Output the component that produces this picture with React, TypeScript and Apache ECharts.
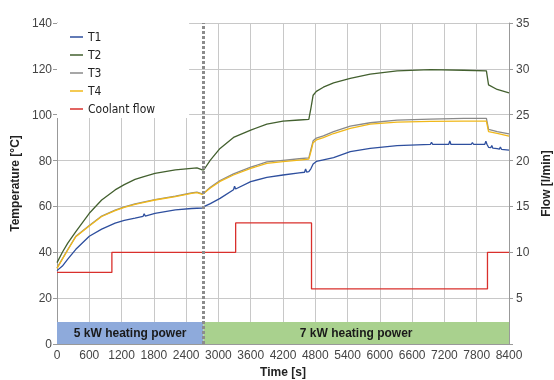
import React, { useEffect, useRef } from "react";
import * as echarts from "echarts";

const timeS = [0, 100, 200, 350, 600, 830, 1080, 1250, 1450, 1600, 1820, 2200, 2500, 2600, 2700, 2730, 2850, 3030, 3280, 3600, 3900, 4200, 4500, 4680, 4720, 4760, 4820, 4950, 5140, 5450, 5820, 6320, 6940, 7560, 7980, 8020, 8180, 8400];
const t2 = [35.5, 40, 44, 49, 57, 62.8, 67.2, 69.5, 71.8, 72.9, 74.4, 75.9, 76.6, 76.8, 75.9, 76.0, 80.2, 85.3, 90.1, 93.3, 95.9, 97.2, 97.7, 98.0, 103, 108.5, 110.2, 112, 113.9, 115.8, 117.7, 119.1, 119.7, 119.4, 119.1, 113, 111, 109.5];
const t3 = [33.2, 37.2, 41.2, 47, 51.7, 55.8, 58.4, 59.8, 61.1, 61.9, 63.0, 64.5, 65.9, 66.2, 65.5, 65.9, 68.4, 71.3, 74.2, 77.1, 79.4, 80.1, 80.8, 81.2, 85, 88.6, 89.8, 90.8, 92.6, 95.0, 96.5, 97.6, 98.1, 98.4, 98.4, 93.6, 92.6, 91.6];
const t4 = [33, 37, 41, 46.8, 51.5, 55.6, 58.2, 59.6, 60.9, 61.7, 62.8, 64.3, 65.7, 66.0, 65.3, 65.7, 68, 70.9, 73.7, 76.6, 78.8, 79.5, 80.2, 80.6, 84, 87.8, 89.0, 90.0, 91.8, 94.0, 95.9, 96.8, 97.1, 97.2, 97.2, 92.6, 91.9, 90.7];

const t1Time = [0, 100, 200, 350, 600, 830, 1080, 1250, 1450, 1600, 1620, 1640, 1820, 2200, 2500, 2600, 2700, 2730, 2850, 3030, 3280, 3300, 3320, 3600, 3900, 4200, 4500, 4600, 4620, 4640, 4680, 4720, 4760, 4820, 4950, 5140, 5450, 5820, 6320, 6940, 6960, 6980, 7280, 7300, 7320, 7560, 7700, 7720, 7740, 7950, 7970, 7990, 8020, 8060, 8080, 8100, 8180, 8220, 8240, 8260, 8400];
const t1 = [32, 34, 37, 41.3, 47, 50.1, 52.7, 53.9, 54.9, 55.7, 56.8, 55.8, 57.0, 58.5, 59.1, 59.2, 59.3, 59.9, 61.2, 63.5, 67.3, 68.8, 67.6, 70.8, 72.7, 73.7, 74.6, 74.9, 76.3, 75.0, 75.2, 76.5, 78.5, 79.6, 80.3, 81.3, 83.9, 85.3, 86.5, 87.1, 88.0, 87.1, 87.1, 88.6, 87.1, 87.1, 87.1, 87.9, 87.1, 87.1, 88.4, 87.1, 85.8, 85.6, 86.6, 85.4, 85.2, 85.0, 85.9, 84.9, 84.6];

const flowTime = [0, 1020, 3320, 4730, 8000, 8400];
const flowValues = [7.8, 10, 13.2, 6.0, 10, 10];

const phaseSwitch = 2720;
const phaseLabels = ["5 kW heating power", "7 kW heating power"];
const phaseTop = 9.6;

const FONT = "'Liberation Sans', Arial, sans-serif";
const NARROW = "'DejaVu Sans Condensed', 'Liberation Sans Narrow', 'Liberation Sans', Arial, sans-serif";

const zip = (xs: number[], ys: number[]) => xs.map((x, i) => [x, ys[i]]);

export default function App() {
  const ref = useRef<HTMLDivElement>(null);
  useEffect(() => {
    if (!ref.current) return;
    const chart = echarts.init(ref.current, undefined, { renderer: "svg" });
    const lineSeries = (name: string, xs: number[], data: number[], color: string, extra: any = {}) => ({
      name,
      type: "line",
      data: zip(xs, data),
      symbol: "none",
      showSymbol: false,
      lineStyle: { color, width: 1.3 },
      itemStyle: { color },
      ...extra,
    });
    chart.setOption({
      animation: false,
      grid: { left: 57, right: 45, top: 23, bottom: 36, containLabel: false, outerBoundsMode: "none" },
      legend: {
        orient: "vertical",
        left: 57,
        top: 23,
        padding: [8, 34, 3, 13],
        backgroundColor: "#ffffff",
        icon: "rect",
        itemWidth: 13,
        itemHeight: 1.5,
        itemGap: 6,
        textStyle: { fontFamily: NARROW, fontSize: 12, color: "#222" },
        data: ["T1", "T2", "T3", "T4", "Coolant flow"],
      },
      xAxis: {
        type: "value",
        min: 0,
        max: 8400,
        interval: 600,
        name: "Time [s]",
        nameLocation: "middle",
        nameGap: 20,
        nameTextStyle: { fontFamily: FONT, fontSize: 12, fontWeight: "bold", color: "#222" },
        axisLine: { show: true, lineStyle: { color: "#999" } },
        axisTick: { show: false },
        axisLabel: { fontFamily: FONT, fontSize: 12, color: "#444", margin: 5, formatter: (v: number) => String(v) },
        splitLine: { show: true, lineStyle: { color: "#c8c8c8", width: 1 } },
      },
      yAxis: [
        {
          type: "value",
          min: 0,
          max: 140,
          interval: 20,
          name: "Temperature [°C]",
          nameLocation: "middle",
          nameGap: 29,
          nameRotate: 90,
          nameTextStyle: { fontFamily: FONT, fontSize: 12, fontWeight: "bold", color: "#222" },
          axisLine: { show: true, lineStyle: { color: "#999" } },
          axisTick: { show: true, inside: false, length: 4, lineStyle: { color: "#999" } },
          axisLabel: { fontFamily: FONT, fontSize: 12, color: "#444", margin: 5 },
          splitLine: { show: true, lineStyle: { color: "#c8c8c8", width: 1 } },
        },
        {
          type: "value",
          min: 0,
          max: 35,
          interval: 5,
          position: "right",
          name: "Flow [l/min]",
          nameLocation: "middle",
          nameGap: 30,
          nameRotate: 90,
          nameTextStyle: { fontFamily: FONT, fontSize: 12, fontWeight: "bold", color: "#222" },
          axisLine: { show: true, lineStyle: { color: "#999" } },
          axisTick: { show: true, inside: false, length: 4, lineStyle: { color: "#999" } },
          axisLabel: { fontFamily: FONT, fontSize: 12, color: "#444", margin: 7, formatter: (v: number) => (v === 0 ? "" : String(v)) },
          splitLine: { show: false },
        },
      ],
      series: [
        lineSeries("T1", t1Time, t1, "#2e4f9e", {
          markArea: {
            silent: true,
            label: { show: true, position: "inside", fontFamily: FONT, fontSize: 12, fontWeight: "bold", color: "#1a1a1a" },
            data: [
              [
                { name: phaseLabels[0], xAxis: 0, yAxis: 0, itemStyle: { color: "#8eaadb" } },
                { xAxis: phaseSwitch, yAxis: phaseTop },
              ],
              [
                { name: phaseLabels[1], xAxis: phaseSwitch, yAxis: 0, itemStyle: { color: "#a9d18e" } },
                { xAxis: 8400, yAxis: phaseTop },
              ],
            ],
          },
          markLine: {
            silent: true,
            symbol: "none",
            label: { show: false },
            lineStyle: { color: "#8c8c8c", width: 3, type: [3, 2] },
            data: [{ xAxis: phaseSwitch }],
          },
        }),
        lineSeries("T2", timeS, t2, "#43602f"),
        lineSeries("T3", timeS, t3, "#8a8a8a"),
        lineSeries("T4", timeS, t4, "#f0b81a"),
        {
          name: "Coolant flow",
          type: "line",
          yAxisIndex: 1,
          step: "end",
          data: zip(flowTime, flowValues),
          symbol: "none",
          showSymbol: false,
          lineStyle: { color: "#d9302c", width: 1.3 },
          itemStyle: { color: "#d9302c" },
        },
      ],
    });
    return () => chart.dispose();
  }, []);
  return <div ref={ref} style={{ position: "fixed", left: 0, top: 0, width: 554, height: 380 }} />;
}
